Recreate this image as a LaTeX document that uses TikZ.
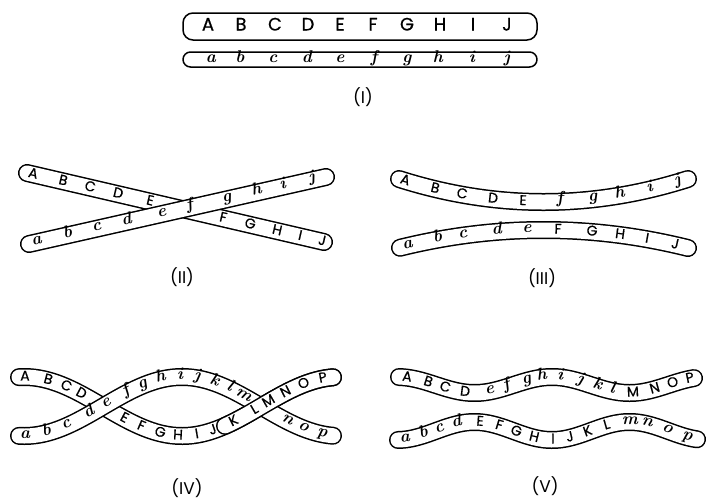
\documentclass[tikz,border=0pt]{standalone}
\usepackage{fontspec}
\newfontfamily\capsf{Poppins}
\newfontfamily\capsbf{Poppins}[FakeBold=0.6]
\newcommand\chromo[1]{\draw[tube] #1; \draw[tubein] #1;}
\tikzset{
  tube/.style={black, line width=18pt, line cap=round},
  tubein/.style={white, line width=15pt, line cap=round},
  box/.style={draw=black, line width=1.5pt},
  upl/.style={font=\capsbf\fontsize{14}{14}\selectfont, inner sep=0pt, text height=0.7em, text depth=0pt},
  uplI/.style={font=\capsbf\fontsize{18}{18}\selectfont, inner sep=0pt, text height=0.7em, text depth=0pt},
  lwl/.style={font=\bfseries\itshape\fontsize{17}{17}\selectfont, inner sep=0pt, text height=1ex, text depth=0pt},
  lab/.style={font=\capsf\fontsize{17}{17}\selectfont, inner sep=0pt}
}
\begin{document}
\begin{tikzpicture}[x=1pt,y=-1pt,line join=round]
\useasboundingbox (0,0) rectangle (707,501);

% ---------- Panel I ----------
\draw[box, rounded corners=10] (183,13) rectangle (537,40);
\foreach \l/\x in {A/208,B/241,C/275,D/308,E/340,F/373,G/407,H/440,I/473,J/507}
  \node[uplI] (p1\l) at (\x,27) {\l};
\draw[box, rounded corners=7.5] (183,52) rectangle (537,67);
\foreach \l/\x in {a/211,b/240,c/273,d/307,e/340,f/374,g/407,h/438,i/472,j/507}
  \node[lwl] (p1\l) at (\x,60) {\l};
\node[lab] (lab1) at (363,97) {(I)};

% ---------- Panel II ----------
\chromo{(27,173) -- (324,242)}
\foreach \l/\x in {A/33,B/63,C/90,D/118,E/150,F/223,G/250,H/277,I/300,J/322}{
  \pgfmathsetmacro\yy{173+69/297*(\x-27)}
  \node[upl, rotate=-13.08] (p2\l) at (\x,\yy) {\l};}
\chromo{(29,244) -- (326,177)}
\foreach \l/\x in {a/37,b/68,c/97,d/127,e/162,f/190,g/227,h/257,i/283,j/312}{
  \pgfmathsetmacro\yy{244-67/297*(\x-29)}
  \node[lwl, rotate=12.71] (p2\l) at (\x,\yy) {\l};}
\node[lab] (lab2) at (182,277) {(II)};

% ---------- Panel III ----------
\chromo{plot[domain=399:688, samples=80] (\x,{179+23*(1-((\x-543.5)/144.5)*((\x-543.5)/144.5))})}
\foreach \l/\x in {A/405,B/435,C/462,D/493,E/523}{
  \pgfmathsetmacro\yy{179+23*(1-((\x-543.5)/144.5)*((\x-543.5)/144.5))}
  \pgfmathsetmacro\rr{atan(0.31834*(\x-543.5)/144.5)}
  \node[upl, rotate=\rr] (p3\l) at (\x,\yy) {\l};}
\foreach \l/\x in {f/560,g/593,h/620,i/650,j/678}{
  \pgfmathsetmacro\yy{179+23*(1-((\x-543.5)/144.5)*((\x-543.5)/144.5))}
  \pgfmathsetmacro\rr{atan(0.31834*(\x-543.5)/144.5)}
  \node[lwl, rotate=\rr] (p3\l) at (\x,\yy) {\l};}
\chromo{plot[domain=400:688, samples=80] (\x,{248-18*(1-((\x-543.5)/144.5)*((\x-543.5)/144.5))})}
\foreach \l/\x in {a/408,b/438,c/463,d/497,e/527}{
  \pgfmathsetmacro\yy{248-18*(1-((\x-543.5)/144.5)*((\x-543.5)/144.5))}
  \pgfmathsetmacro\rr{-atan(0.24913*(\x-543.5)/144.5)}
  \node[lwl, rotate=\rr] (p3\l) at (\x,\yy) {\l};}
\foreach \l/\x in {F/558,G/592,H/620,I/647,J/675}{
  \pgfmathsetmacro\yy{248-18*(1-((\x-543.5)/144.5)*((\x-543.5)/144.5))}
  \pgfmathsetmacro\rr{-atan(0.24913*(\x-543.5)/144.5)}
  \node[upl, rotate=\rr] (p3\l) at (\x,\yy) {\l};}
\node[lab] (lab3) at (542,278) {(III)};

% ---------- Panel IV ----------
\chromo{plot[domain=19:333, samples=120] (\x,{406.5+29.5*cos(1.13924*(\x-182))})}
\foreach \l/\x in {A/25,B/48,C/66,D/81,E/124,F/141,G/160,H/178,I/197,J/213}{
  \pgfmathsetmacro\yy{406.5+29.5*cos(1.13924*(\x-182))}
  \pgfmathsetmacro\rr{atan(0.5866*sin(1.13924*(\x-182)))}
  \node[upl, rotate=\rr] (p4\l) at (\x,\yy) {\l};}
\chromo{plot[domain=19:333, samples=120] (\x,{406.5-29.5*cos(1.13924*(\x-182))})}
\foreach \l/\x in {a/25,b/47,c/67,d/90,e/107,f/127,g/143,h/161,i/180,j/197,k/214,l/229,m/243,n/287,o/303,p/322}{
  \pgfmathsetmacro\yy{406.5-29.5*cos(1.13924*(\x-182))}
  \pgfmathsetmacro\rr{-atan(0.5866*sin(1.13924*(\x-182)))}
  \node[lwl, rotate=\rr] (p4\l) at (\x,\yy) {\l};}
\chromo{plot[domain=225:333, samples=60] (\x,{406.5+29.5*cos(1.13924*(\x-182))})}
\foreach \l/\x in {K/234,L/255,M/269,N/286,O/304,P/323}{
  \pgfmathsetmacro\yy{406.5+29.5*cos(1.13924*(\x-182))}
  \pgfmathsetmacro\rr{atan(0.5866*sin(1.13924*(\x-182)))}
  \node[upl, rotate=\rr] (p4\l) at (\x,\yy) {\l};}
\node[lab] (lab4) at (187,488) {(IV)};

% ---------- Panel V ----------
\chromo{plot[domain=399:694, samples=120] (\x,{385-8*cos(2.32258*(\x-397))})}
\foreach \l/\x in {A/407,B/428,C/445,D/465,M/633,N/655,O/673,P/690}{
  \pgfmathsetmacro\yy{385-8*cos(2.32258*(\x-397))}
  \pgfmathsetmacro\rr{-atan(0.3243*sin(2.32258*(\x-397)))}
  \node[upl, rotate=\rr] (p5\l) at (\x,\yy) {\l};}
\foreach \l/\x in {e/490,f/507,g/527,h/542,i/560,j/580,k/597,l/612}{
  \pgfmathsetmacro\yy{385-8*cos(2.32258*(\x-397))}
  \pgfmathsetmacro\rr{-atan(0.3243*sin(2.32258*(\x-397)))}
  \node[lwl, rotate=\rr] (p5\l) at (\x,\yy) {\l};}
\chromo{plot[domain=398:697, samples=120] (\x,{431+9*cos(2.32258*(\x-397))})}
\foreach \l/\x in {a/405,b/424,c/440,d/457,m/630,n/647,o/667,p/687}{
  \pgfmathsetmacro\yy{431+9*cos(2.32258*(\x-397))}
  \pgfmathsetmacro\rr{atan(0.3648*sin(2.32258*(\x-397)))}
  \node[lwl, rotate=\rr] (p5\l) at (\x,\yy) {\l};}
\foreach \l/\x in {E/480,F/499,G/516,H/534,I/553,J/570,K/588,L/607}{
  \pgfmathsetmacro\yy{431+9*cos(2.32258*(\x-397))}
  \pgfmathsetmacro\rr{atan(0.3648*sin(2.32258*(\x-397)))}
  \node[upl, rotate=\rr] (p5\l) at (\x,\yy) {\l};}
\node[lab] (lab5) at (545,486) {(V)};
\end{tikzpicture}
\end{document}
